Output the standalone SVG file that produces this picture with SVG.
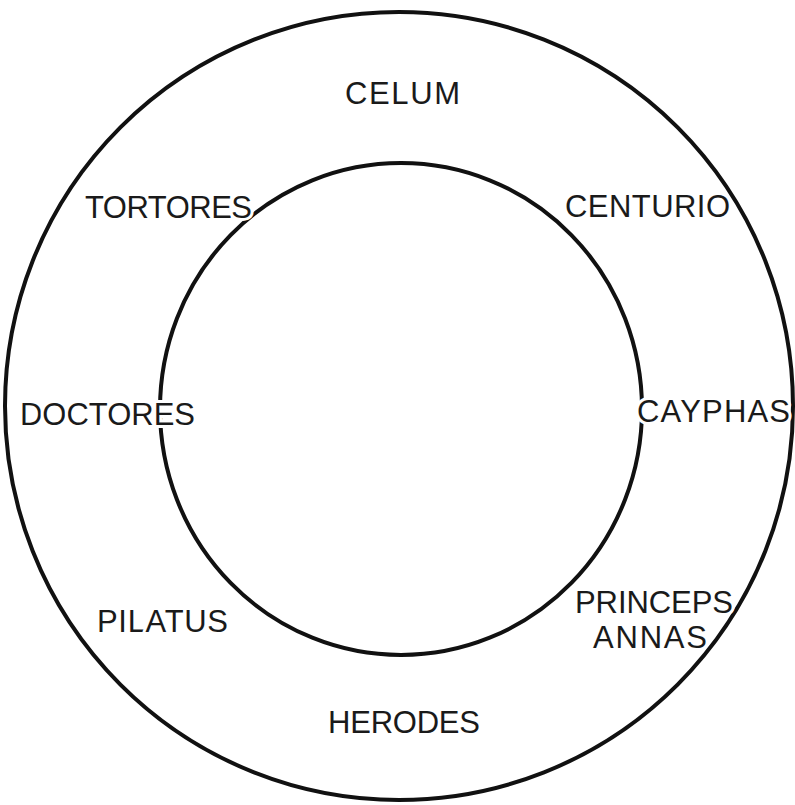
<svg xmlns="http://www.w3.org/2000/svg" width="795" height="805" viewBox="0 0 795 805">
<style>
.ring{fill:none;stroke:#111;stroke-width:4}
.lbl{font-family:"Liberation Sans",Arial,sans-serif;font-size:31px;fill:#1a1a1a;stroke:#fff;stroke-width:6;paint-order:stroke;stroke-linejoin:round}
</style>
<rect width="795" height="805" fill="#fff"/>
<g id="rings">
<ellipse id="outer" class="ring" cx="399" cy="406" rx="394" ry="394"/>
<ellipse id="inner" class="ring" cx="401" cy="409" rx="241" ry="246"/>
</g>
<g id="celum"><text class="lbl" x="345" y="104" textLength="115" lengthAdjust="spacing">CELUM</text></g>
<g id="tortores"><text class="lbl" x="85" y="218" textLength="167" lengthAdjust="spacing">TORTORES</text></g>
<g id="centurio"><text class="lbl" x="565" y="217" textLength="165" lengthAdjust="spacing">CENTURIO</text></g>
<g id="doctores"><text class="lbl" x="20" y="425" textLength="175" lengthAdjust="spacing">DOCTORES</text></g>
<g id="cayphas"><text class="lbl" x="637" y="422" textLength="153" lengthAdjust="spacing">CAYPHAS</text></g>
<g id="princeps"><text class="lbl" x="575" y="613" textLength="158" lengthAdjust="spacing">PRINCEPS</text><text class="lbl" x="593" y="648" textLength="114" lengthAdjust="spacing">ANNAS</text></g>
<g id="pilatus"><text class="lbl" x="97" y="632" textLength="131" lengthAdjust="spacing">PILATUS</text></g>
<g id="herodes"><text class="lbl" x="328" y="733" textLength="152" lengthAdjust="spacing">HERODES</text></g>
</svg>
